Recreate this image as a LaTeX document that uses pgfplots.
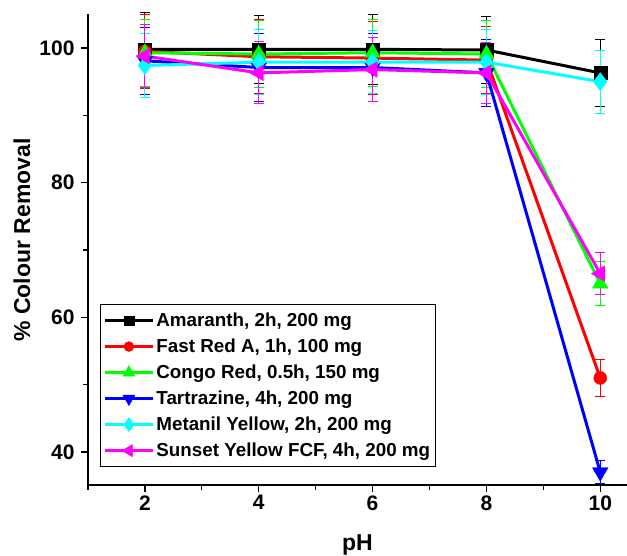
\documentclass[border=0pt]{standalone}
\usepackage{pgfplots}
\pgfplotsset{compat=1.18}
\usepackage{fontspec}
\setmainfont{Liberation Sans}
\definecolor{cgreen}{RGB}{0,255,0}
\definecolor{ccyan}{RGB}{0,255,255}
\definecolor{cmag}{RGB}{255,0,255}
\definecolor{cred}{RGB}{255,0,0}
\definecolor{cblue}{RGB}{0,0,255}
\begin{document}
\begin{tikzpicture}[x=1pt,y=1pt]
\useasboundingbox (-88,-71) rectangle (539,485);
\begin{axis}[
  at={(0,0)}, anchor=south west,
  scale only axis, width=539pt, height=471pt,
  xmin=1, xmax=10.47, ymin=35.1, ymax=105.05,
  clip=false,
  axis x line*=bottom, axis y line*=left,
  axis line style={line width=1.6pt},
  xtick={2,4,6,8,10}, minor xtick={1,3,5,7,9},
  ytick={40,60,80,100}, minor ytick={50,70,90},
  tick align=outside, major tick length=7pt, minor tick length=5pt,
  every tick/.style={black, line width=1.3pt},
  ticklabel style={font=\bfseries\fontsize{21}{25}\selectfont},
  yticklabel style={xshift=-3pt},
  /pgf/number format/assume math mode=true,
  xlabel={pH}, ylabel={\% Colour Removal},
  label style={font=\bfseries\fontsize{23}{27}\selectfont},
  xlabel style={at={(axis description cs:0.5,-0.128)}, anchor=center},
  ylabel style={at={(axis description cs:-0.1225,0.52)}, anchor=center},
  legend style={at={(0.0223,0.038)}, anchor=south west, draw=black, line width=0.8pt,
    font=\bfseries\fontsize{18.8}{22}\selectfont, row sep=6.9pt, inner xsep=3pt, inner ysep=6.5pt},
  legend cell align=left,
  legend image code/.code={\draw[mark repeat=2,mark phase=2] plot coordinates {(0pt,0pt) (24pt,0pt) (48pt,0pt)};},
  every axis plot/.append style={line width=3pt, mark options={solid, line width=0.4pt},
    error bars/y dir=both, error bars/y explicit,
    error bars/error bar style={line width=0.9pt},
    error bars/error mark options={rotate=90, mark size=5pt, line width=0.9pt}},
]
\addlegendimage{black, line width=3pt, mark=square*, mark size=4.8pt, mark options={solid, line width=0.4pt}}
\addlegendentry{Amaranth, 2h, 200 mg}
\addlegendimage{cred, line width=3pt, mark=*, mark size=5pt, mark options={solid, line width=0.4pt}}
\addlegendentry{Fast Red A, 1h, 100 mg}
\addlegendimage{cgreen, line width=3pt, mark=triangle*, mark size=7pt, mark options={solid, line width=0.4pt}}
\addlegendentry{Congo Red, 0.5h, 150 mg}
\addlegendimage{cblue, line width=3pt, mark=triangle*, mark size=7pt, mark options={solid, line width=0.4pt, rotate=180}}
\addlegendentry{Tartrazine, 4h, 200 mg}
\addlegendimage{ccyan, line width=3pt, mark=diamond*, mark size=7pt, mark options={solid, line width=0.4pt}}
\addlegendentry{Metanil Yellow, 2h, 200 mg}
\addlegendimage{cmag, line width=3pt, mark=triangle*, mark size=7pt, mark options={solid, line width=0.4pt, rotate=90}}
\addlegendentry{Sunset Yellow FCF, 4h, 200 mg}
\addplot[forget plot, black, mark=square*, mark size=6.5pt] table[x=x,y=y,y error=e] {
x y e
2 99.8 5.5
4 99.8 5.1
6 99.8 5.2
8 99.7 5.0
10 96.3 5.0
};
\addplot[forget plot, cred, mark=*, mark size=6.5pt] table[x=x,y=y,y error=e] {
x y e
2 99.5 5.5
4 98.7 5.5
6 98.5 5.4
8 98.2 5.0
10 51.0 2.8
};
\addplot[forget plot, cgreen, mark=triangle*, mark size=9pt] table[x=x,y=y,y error=e] {
x y e
2 99.3 5.0
4 99.1 5.0
6 99.3 5.0
8 99.1 5.0
10 65.0 3.3
};
\addplot[forget plot, cblue, mark=triangle*, mark size=9pt, mark options={solid, line width=0.4pt, rotate=180}] table[x=x,y=y,y error=e] {
x y e
2 98.1 5.0
4 97.1 5.0
6 97.1 5.0
8 96.3 5.0
10 37.0 1.7
};
\addplot[forget plot, ccyan, mark=diamond*, mark size=9pt] table[x=x,y=y,y error=e] {
x y e
2 97.4 4.8
4 97.9 4.8
6 97.9 4.7
8 97.9 4.8
10 95.0 4.7
};
\addplot[forget plot, cmag, mark=triangle*, mark size=9pt, mark options={solid, line width=0.4pt, rotate=90}] table[x=x,y=y,y error=e] {
x y e
2 98.8 4.7
4 96.3 4.6
6 96.8 4.7
8 96.3 4.5
10 66.5 3.1
};
\end{axis}
\end{tikzpicture}
\end{document}
